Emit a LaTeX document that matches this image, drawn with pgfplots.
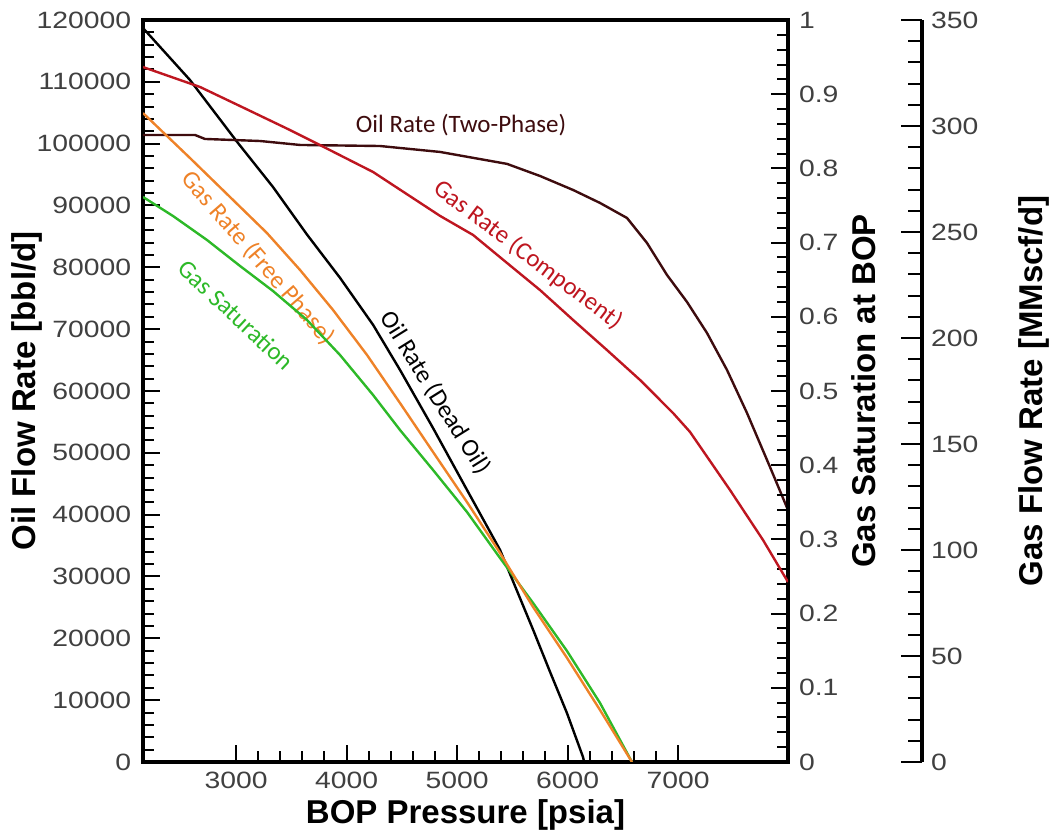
\documentclass[border=0pt]{standalone}
\usepackage{fontspec}
\setmainfont{Liberation Sans}
\newfontfamily\tickfont[FakeStretch=1.2]{Liberation Sans}
\newfontfamily\notefont{Carlito}
\usepackage{pgfplots}
\pgfplotsset{compat=1.18}

\definecolor{twophase}{RGB}{62,12,14}
\definecolor{comp}{RGB}{190,22,32}
\definecolor{freegas}{RGB}{238,130,40}
\definecolor{satgreen}{RGB}{45,185,40}
\definecolor{tickgray}{RGB}{64,64,64}

\newcommand{\labfont}{\bfseries\fontsize{16.5}{19}\selectfont}
\newcommand{\notesize}{\notefont\fontsize{12.5}{15}\selectfont}

\pgfplotsset{
  common/.style={
    at={(0,0)}, anchor=south west,
    scale only axis, width=322.5pt, height=371pt,
    xmin=2158, xmax=7995, ymin=0,
    tick align=inside, scaled ticks=false,
    /pgf/number format/fixed,
    /pgf/number format/1000 sep={},
    /pgf/number format/assume math mode=true,
    tick label style={font=\tickfont\fontsize{11.8}{14}\selectfont, text=tickgray},
    major tick length=8.5pt, minor tick length=5.5pt,
    every tick/.style={black, line width=1pt},
    axis line style={black, line width=1.6pt, -},
  },
  curve/.style={line width=1.2pt, no markers, line join=round},
}

\begin{document}
\begin{tikzpicture}
\useasboundingbox (-71.5pt,-36pt) rectangle (453pt,381pt);

% oil rate axis (left) with pressure axis
\begin{axis}[common,
  ymax=120000,
  tick pos=left,
  xtick={3000,4000,5000,6000,7000},
  ytick={0,10000,20000,30000,40000,50000,60000,70000,80000,90000,100000,110000,120000},
  minor x tick num=4, minor y tick num=4,
  xticklabel style={yshift=-1.6pt},
  yticklabel style={xshift=-2.4pt},
  xlabel={BOP Pressure [psia]},
  ylabel={Oil Flow Rate [bbl/d]},
  every axis x label/.style={at={(rel axis cs:0.5,0)}, yshift=-26.5pt, anchor=center, font=\labfont},
  every axis y label/.style={at={(rel axis cs:0,0.5)}, xshift=-58pt, rotate=90, anchor=center, font=\labfont},
]
\addplot[curve, black] coordinates {
(2158,118700) (2583,110300) (3009,100300) (3334,93000) (3642,85300)
(3941,78300) (4240,70700) (4484,63400) (4783,54000) (5090,44000)
(5389,34300) (5688,21400) (5841,14600) (5995,7900) (6140,800) (6150,0)};
\addplot[curve, twophase] coordinates {
(2158,101400) (2629,101400) (2719,100760) (3217,100430) (3579,99790)
(4303,99620) (4846,98660) (5452,96730) (5751,94770) (6050,92510)
(6294,90410) (6538,87980) (6719,83940) (6900,78760) (7081,74400)
(7262,69380) (7443,63400) (7624,56440) (7832,47710) (7995,40750)};

\node[font=\notesize, text=twophase] at (axis cs:5036,103020) {Oil Rate (Two-Phase)};
\node[font=\notesize, text=comp, rotate=-37] at (axis cs:5642,82000) {Gas Rate (Component)};
\node[font=\notesize, text=freegas, rotate=-49] at (axis cs:3199,81500) {Gas Rate (Free Phase)};
\node[font=\notesize, text=satgreen, rotate=-43] at (axis cs:3000,72300) {Gas Saturation};
\node[font=\notesize, text=black, rotate=-58] at (axis cs:4801,59700) {Oil Rate (Dead Oil)};
\end{axis}

% gas saturation axis (right)
\begin{axis}[common,
  ymax=1,
  axis y line*=right, axis x line=none,
  ytick={0,0.1,0.2,0.3,0.4,0.5,0.6,0.7,0.8,0.9,1},
  minor y tick num=4,
  yticklabel style={xshift=2pt},
  ylabel={Gas Saturation at BOP},
  every axis y label/.style={at={(rel axis cs:1,0.5)}, xshift=38pt, rotate=90, anchor=center, font=\labfont},
]
\addplot[curve, satgreen] coordinates {
(2158,0.7615) (2430,0.7358) (2737,0.7035) (3036,0.6685) (3334,0.6348)
(3642,0.5957) (3941,0.5485) (4240,0.4946) (4484,0.4474) (4783,0.3935)
(5090,0.3369) (5389,0.2749) (5688,0.2143) (5995,0.1496) (6294,0.0795) (6583,0)};
\end{axis}

% gas flow rate curves (plotted against the offset axis scale)
\begin{axis}[common, ymax=350, hide axis]
\addplot[curve, comp] coordinates {
(2158,327.8) (2674,318.4) (3036,309.4) (3488,298.1) (3760,291.0)
(4240,278.3) (4846,257.6) (5145,248.6) (5452,235.4) (5751,222.6)
(6050,208.5) (6357,194.3) (6656,180.2) (6955,164.6) (7108,155.7)
(7470,128.3) (7769,104.7) (7995,84.9)};
\addplot[curve, freegas] coordinates {
(2158,306.1) (2583,284.9) (2973,265.1) (3280,249.5) (3579,232.1)
(3878,213.2) (4185,192.0) (4484,169.3) (4783,146.2) (5090,122.6)
(5389,98.6) (5688,73.1) (5995,49.1) (6294,24.5) (6583,0)};
\end{axis}

% offset gas flow rate axis
\begin{axis}[common,
  at={(389.5pt,0)}, anchor=south east, width=1pt,
  xmin=0, xmax=1, ymax=350,
  axis y line*=right, axis x line=none,
  ytick={0,50,100,150,200,250,300,350},
  minor y tick num=4,
  major tick length=10.5pt, minor tick length=7pt,
  yticklabel style={xshift=1pt},
  ylabel={Gas Flow Rate [MMscf/d]},
  every axis y label/.style={at={(rel axis cs:1,0.5)}, xshift=56pt, rotate=90, anchor=center, font=\labfont},
]
\end{axis}
\end{tikzpicture}
\end{document}
